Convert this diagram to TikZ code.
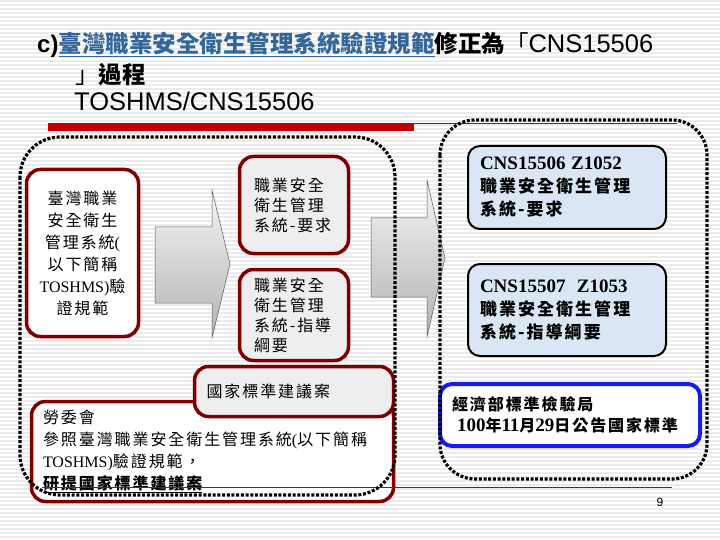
\documentclass[tikz,border=0pt]{standalone}
\usepackage{fontspec}
\setmainfont{Liberation Serif}
\setsansfont{Liberation Sans}
\newfontfamily\hei{Noto Sans CJK TC}
\newfontfamily\cjk[LetterSpace=12]{Noto Sans CJK TC}
\usepackage{xcolor}
\usetikzlibrary{positioning}

\definecolor{boxred}{RGB}{128,0,0}
\definecolor{rulered}{RGB}{192,0,0}
\definecolor{titleblue}{RGB}{51,102,153}
\definecolor{paleblue}{RGB}{218,230,243}
\definecolor{markblue}{RGB}{20,30,230}

\begin{document}
\begin{tikzpicture}[x=1pt,y=-1pt,
    stripe/.style={gray!16, line width=1.4pt},
    redbox/.style={draw=boxred, line width=3.5pt, rounded corners=14pt, fill=white, inner sep=0pt},
    marblebox/.style={redbox, fill=gray!13},
    bluebox/.style={draw=black, line width=2pt, rounded corners=12pt, fill=paleblue, inner sep=0pt},
    dotbox/.style={line width=3.2pt, dash pattern=on 3pt off 1.7pt},
    blockarrow/.style={draw=gray!70!black, line width=0.5pt, top color=gray!8, bottom color=gray!60},
    boxtext/.style={font=\cjk\fontsize{16}{20}\selectfont}
    ]

\useasboundingbox (0,0) rectangle (720,540);

% background stripes
\foreach \k in {1,5,...,540}
    \draw[stripe] (0,\k) -- (720,\k);

% title
\node[anchor=west, inner sep=0pt] (title) at (37,45) {{\sffamily\bfseries\fontsize{24}{28}\selectfont c)}{\hei\bfseries\fontsize{23.5}{28}\selectfont\color{titleblue}\underline{臺灣職業安全衛生管理系統驗證規範}}{\hei\bfseries\fontsize{23.5}{28}\selectfont 修正為}{\hei\fontsize{23.5}{28}\selectfont 「}{\sffamily\fontsize{25.5}{28}\selectfont CNS15506}};
\node[anchor=west, inner sep=0pt] (title2) at (75,75) {\hei\fontsize{23.5}{28}\selectfont 」\bfseries 過程};
\node[anchor=west, inner sep=0pt] (title3) at (74,101) {\sffamily\fontsize{25.5}{28}\selectfont TOSHMS/CNS15506};

\fill[rulered] (48,123) rectangle (414,131);
\draw[rulered, line width=1pt] (414,123.5) -- (677,123.5);

% left part
\node[redbox, minimum width=112, minimum height=167, text width=104, align=center, font=\cjk\fontsize{16}{22}\selectfont] (tosh) at (82.5,253)
    {臺灣職業\\安全衛生\\管理系統{\rmfamily(}\\以下簡稱\\{\rmfamily TOSHMS)}驗\\證規範};

\draw[blockarrow] (155,227) -- (212,227) -- (212,190) -- (230,264) -- (212,338) -- (212,303) -- (155,303) -- cycle;

\node[marblebox, minimum width=109, minimum height=97, text width=80, align=left, boxtext] (req) at (294,205)
    {職業安全\\衛生管理\\系統-要求};
\node[marblebox, minimum width=109, minimum height=91, text width=80, align=left, boxtext] (guide) at (294,315)
    {職業安全\\衛生管理\\系統-指導\\綱要};

\node[redbox, minimum width=362, minimum height=100, text width=339, align=left, font=\cjk\fontsize{16}{22}\selectfont] (cla) at (212.5,451.5)
    {勞委會\\參照臺灣職業安全衛生管理系統{\rmfamily(}以下簡稱\\{\rmfamily TOSHMS)}驗證規範，\\\textbf{\underline{研提國家標準建議案}}};
\node[marblebox, minimum width=199, minimum height=50, text width=175, align=left, boxtext] (prop) at (294,391.5)
    {國家標準建議案};

\draw[rulered, line width=1pt] (42,487) -- (672,487);

\draw[blockarrow] (371,218) -- (427,218) -- (427,180) -- (445,258) -- (427,337) -- (427,297) -- (371,297) -- cycle;

% right part
\node[bluebox, minimum width=198, minimum height=83, text width=174, align=left, font=\cjk\bfseries\fontsize{17}{23}\selectfont] (cns1) at (567,187.5)
    {{\rmfamily\fontsize{19}{23}\selectfont CNS15506 Z1052}\\職業安全衛生管理\\系統-要求};
\node[bluebox, minimum width=198, minimum height=92, text width=174, align=left, font=\cjk\bfseries\fontsize{17}{23}\selectfont] (cns2) at (567,310)
    {{\rmfamily\fontsize{19}{23}\selectfont CNS15507\ \ Z1053}\\職業安全衛生管理\\系統-指導綱要};

\node[redbox, draw=markblue, line width=4pt, rounded corners=12pt, minimum width=260, minimum height=62, text width=236, align=left, font=\cjk\bfseries\fontsize{16}{21}\selectfont] (bsmi) at (570,415)
    {經濟部標準檢驗局\\\hspace*{5pt}{\rmfamily\fontsize{19}{21}\selectfont 100}年{\rmfamily\fontsize{19}{21}\selectfont 11}月{\rmfamily\fontsize{19}{21}\selectfont 29}日公告國家標準};

% dotted groups
\draw[dotbox, rounded corners=40pt] (20,137) rectangle (395,495);
\draw[dotbox, rounded corners=35pt] (440,120) rectangle (707,479);

\node[inner sep=0pt] (pagenum) at (660,502) {\sffamily\fontsize{12}{14}\selectfont 9};

\end{tikzpicture}
\end{document}
